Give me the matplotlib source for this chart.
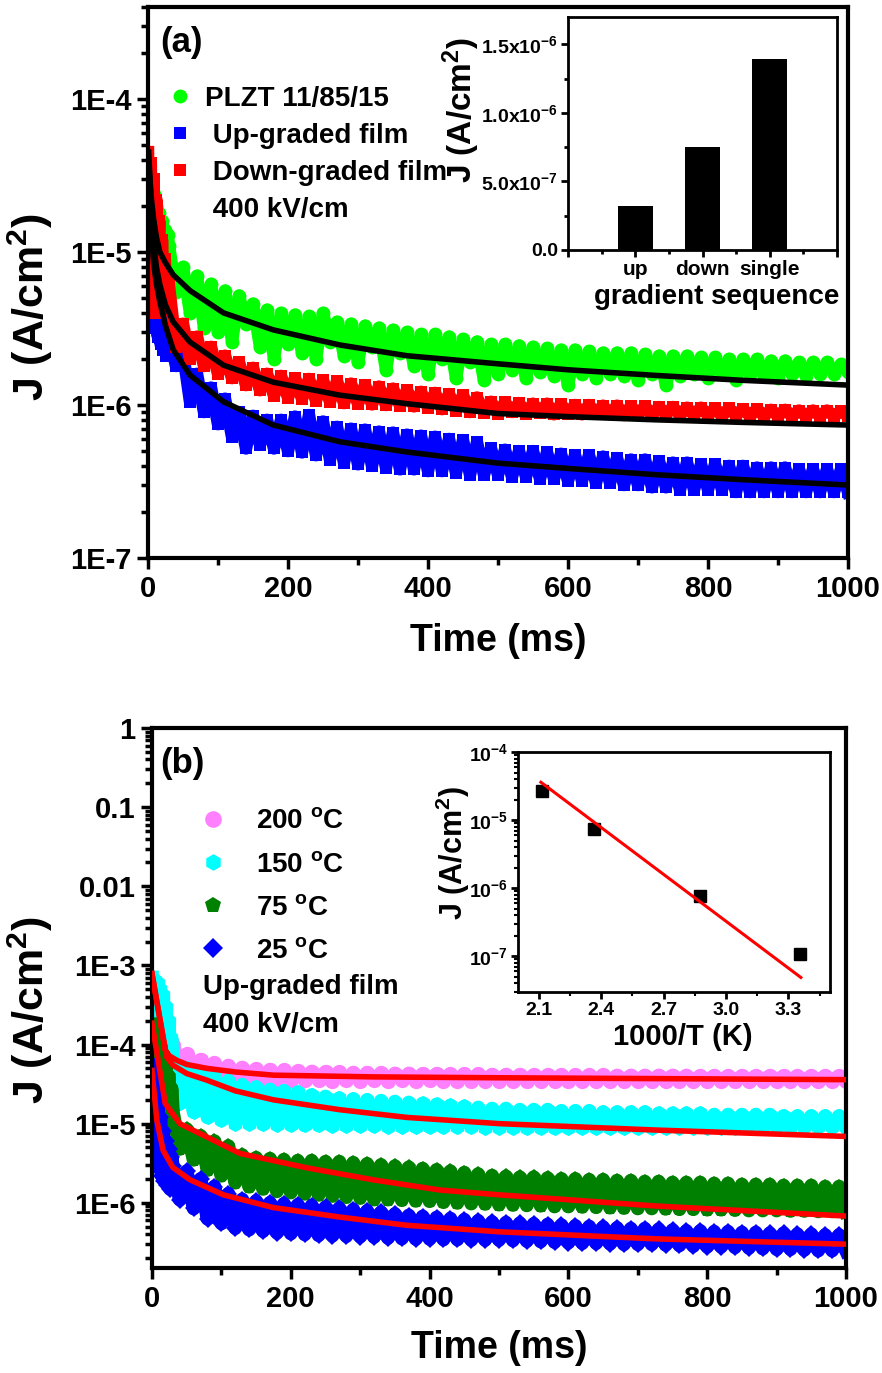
import numpy as np
import matplotlib
matplotlib.use('Agg')
import matplotlib.pyplot as plt
from matplotlib.ticker import LogLocator, NullFormatter, MultipleLocator, FixedLocator
from matplotlib.lines import Line2D

plt.rcParams['font.family'] = ['Liberation Sans', 'DejaVu Sans']
plt.rcParams['font.weight'] = 'bold'
plt.rcParams['axes.labelweight'] = 'bold'
plt.rcParams['mathtext.fontset'] = 'custom'
plt.rcParams['mathtext.rm'] = 'Liberation Sans:bold'
plt.rcParams['mathtext.it'] = 'Liberation Sans:bold'
plt.rcParams['mathtext.bf'] = 'Liberation Sans:bold'
plt.rcParams['mathtext.default'] = 'rm'

# sampling times (ms): fine steps at the start, then every 10 ms
time_ms = np.concatenate([np.arange(0, 30, 2), np.arange(30, 1001, 10)])

# ---- (a) leakage current, uA/cm^2 : first 15 samples, then peaks (30,50..990) and troughs (40,60..1000)
plzt_early = [35, 14, 28, 12, 24, 11, 20, 10, 18, 9, 16, 8.5, 14, 8, 13]
plzt_hi = [11, 8.0, 7.0, 6.2, 5.6, 5.2, 4.6, 4.2, 4.0, 3.9,
           3.8, 4.0, 3.5, 3.4, 3.3, 3.2, 3.1, 3.0, 2.9, 2.9,
           2.8, 2.7, 2.6, 2.5, 2.5, 2.45, 2.4, 2.35, 2.3, 2.3,
           2.25, 2.2, 2.2, 2.2, 2.15, 2.1, 2.1, 2.1, 2.05, 2.05,
           2.0, 2.0, 2.0, 1.95, 1.95, 1.9, 1.9, 1.9, 1.85]
plzt_lo = [5.5, 4.0, 3.2, 3.0, 2.6, 3.4, 2.4, 2.0, 2.5, 2.2,
           2.0, 2.6, 2.1, 1.9, 2.4, 1.7, 2.2, 1.8, 1.6, 2.0,
           1.5, 1.9, 1.45, 1.6, 1.7, 1.5, 1.65, 1.55, 1.35, 1.6,
           1.5, 1.6, 1.55, 1.45, 1.6, 1.35, 1.55, 1.6, 1.5, 1.6,
           1.45, 1.6, 1.55, 1.5, 1.6, 1.55, 1.6, 1.6, 1.65]

up_early = [12, 4, 10, 3.5, 8, 3.2, 6.5, 2.8, 5.5, 2.5, 4.5, 2.3, 3.8, 2.1, 3.2]
up_hi = [2.9, 2.2, 1.6, 1.3, 1.1, 0.9, 0.85, 0.8, 0.8, 0.84,
         0.86, 0.78, 0.72, 0.7, 0.69, 0.67, 0.66, 0.64, 0.63, 0.62,
         0.6, 0.59, 0.57, 0.52, 0.51, 0.5, 0.5, 0.49, 0.48, 0.47,
         0.47, 0.46, 0.45, 0.44, 0.44, 0.43, 0.42, 0.42, 0.41, 0.41,
         0.4, 0.4, 0.39, 0.39, 0.39, 0.38, 0.38, 0.38, 0.38]
up_lo = [1.8, 1.05, 0.9, 0.75, 0.62, 0.52, 0.55, 0.52, 0.5, 0.49,
         0.47, 0.44, 0.42, 0.41, 0.4, 0.39, 0.38, 0.38, 0.37, 0.37,
         0.36, 0.35, 0.35, 0.35, 0.34, 0.34, 0.33, 0.33, 0.32, 0.32,
         0.31, 0.31, 0.3, 0.3, 0.29, 0.29, 0.28, 0.28, 0.28, 0.28,
         0.27, 0.27, 0.27, 0.27, 0.27, 0.27, 0.27, 0.27, 0.27]

down_early = [45, 5, 38, 4.5, 30, 4, 22, 8, 16, 5, 12, 6, 9, 4.5, 7]
down_hi = [6.0, 3.4, 2.8, 2.4, 2.1, 1.9, 1.75, 1.6, 1.55, 1.5,
           1.48, 1.45, 1.43, 1.38, 1.35, 1.32, 1.28, 1.25, 1.22, 1.2,
           1.18, 1.16, 1.12, 1.05, 1.04, 1.03, 1.02, 1.02, 1.01, 1.0,
           1.0, 0.99, 0.99, 0.98, 0.98, 0.97, 0.97, 0.96, 0.96, 0.95,
           0.95, 0.94, 0.94, 0.93, 0.93, 0.92, 0.92, 0.92, 0.91]
down_lo = [2.4, 2.0, 1.8, 1.6, 1.5, 1.35, 1.25, 1.15, 1.12, 1.1,
           1.07, 1.05, 1.03, 1.02, 1.01, 1.0, 0.99, 0.98, 0.96, 0.94,
           0.92, 0.9, 0.89, 0.88, 0.9, 0.88, 0.89, 0.87, 0.88, 0.87,
           0.88, 0.87, 0.86, 0.87, 0.86, 0.87, 0.86, 0.86, 0.86, 0.85,
           0.86, 0.85, 0.85, 0.85, 0.85, 0.85, 0.85, 0.85, 0.85]

# fitted curves (a), uA/cm^2
fit_t_a = [1, 2, 5, 8, 12, 17, 25, 36, 60, 108, 179, 274, 370, 500, 600, 727, 850, 1000]
fit_plzt = [40, 33, 22, 16.5, 12.5, 10, 8.5, 7.1, 5.6, 4.0, 3.1, 2.47, 2.1, 1.86, 1.7, 1.56, 1.45, 1.35]
fit_down = [45, 36, 18, 11.6, 8.0, 6.1, 4.5, 3.5, 2.58, 1.82, 1.41, 1.16, 1.02, 0.88, 0.84, 0.8, 0.77, 0.74]
fit_up = [35, 25, 13, 8.5, 6.2, 4.7, 3.3, 2.3, 1.57, 1.05, 0.74, 0.575, 0.493, 0.417, 0.385, 0.35, 0.325, 0.30]

# inset (a): J at 1 s for each gradient sequence
seq_names = ['up', 'down', 'single']
seq_J = [3.2e-7, 7.5e-7, 1.39e-6]

# ---- (b) up-graded film at several temperatures, uA/cm^2
t200_early = [200, 90, 180, 85, 170, 80, 160, 78, 150, 75, 140, 72, 125, 70, 110]
t200_hi = [100, 75, 64, 58, 54, 51, 49, 48, 47, 46,
           45.5, 45, 44.5, 44, 44, 43.5, 43, 43, 42.5, 42.5,
           42, 42, 42, 41.5, 41.5, 41.5, 41, 41, 41, 41,
           41, 41, 40.5, 40.5, 40.5, 40.5, 40.5, 40.5, 40, 40,
           40, 40, 40, 40, 40, 40, 40, 40, 40]
t200_lo = [55, 47, 43, 40, 38, 37, 36.5, 36, 36, 35.5,
           35.5, 35, 35.5, 35, 35.5, 35, 35.5, 35, 35.5, 35,
           35, 35, 34.5, 35, 35, 34.5, 35, 35, 34.5, 35,
           35, 34.5, 35, 35, 34.5, 35, 35, 34.5, 35, 35,
           34.5, 35, 35, 34.5, 35, 35, 34.5, 35, 35]

t150_early = [700, 150, 650, 130, 600, 110, 500, 100, 420, 90, 300, 80, 200, 75, 120]
t150_hi = [65, 50, 45, 40, 35, 31, 29, 27, 26, 25,
           23, 22, 21, 20.5, 20, 19.5, 19, 18.5, 18, 17.5,
           17, 16.5, 16, 15.5, 15.5, 15, 15, 15, 14.5, 14.5,
           14.5, 14, 14, 14, 14, 13.5, 13.5, 13.5, 13.5, 13,
           13, 13, 13, 13, 12.5, 12.5, 12.5, 12.5, 12.5]
t150_lo = [18, 14, 12, 11, 10, 10, 9.8, 9.7, 9.6, 9.5,
           9.5, 9.4, 9.4, 9.3, 9.3, 9.2, 9.2, 9.1, 9.1, 9.0,
           9.0, 9.0, 8.9, 8.9, 8.9, 8.8, 8.8, 8.8, 8.8, 8.8,
           8.8, 8.8, 8.8, 8.8, 8.8, 8.8, 8.9, 8.9, 8.9, 8.9,
           8.9, 9.0, 9.0, 9.0, 9.0, 9.0, 9.0, 9.0, 9.0]

t75_early = [180, 25, 160, 20, 130, 16, 100, 14, 75, 12, 55, 10, 40, 9, 28]
t75_hi = [14, 8.5, 7.0, 6.0, 5.2, 4.0, 3.7, 3.6, 3.5, 3.4,
          3.4, 3.3, 3.3, 3.2, 3.1, 3.0, 2.9, 2.8, 2.7, 2.6,
          2.5, 2.4, 2.3, 2.2, 2.15, 2.1, 2.1, 2.05, 2.0, 2.0,
          1.95, 1.95, 1.9, 1.9, 1.85, 1.85, 1.8, 1.8, 1.8, 1.75,
          1.75, 1.7, 1.7, 1.7, 1.65, 1.65, 1.65, 1.6, 1.6]
t75_lo = [4.8, 3.5, 2.6, 2.2, 1.8, 1.6, 1.5, 1.4, 1.35, 1.3,
          1.26, 1.22, 1.18, 1.15, 1.1, 1.1, 1.08, 1.06, 1.05, 1.02,
          1.0, 0.98, 0.97, 0.95, 0.94, 0.93, 0.92, 0.9, 0.9, 0.89,
          0.88, 0.87, 0.86, 0.85, 0.85, 0.84, 0.83, 0.83, 0.82, 0.82,
          0.81, 0.8, 0.8, 0.8, 0.79, 0.79, 0.78, 0.78, 0.78]

t25_early = [55, 4.5, 35, 3.5, 20, 2.8, 12, 2.2, 8, 1.9, 6, 1.7, 4.8, 1.5, 3.8]
t25_hi = [2.9, 2.5, 2.0, 1.6, 1.3, 1.1, 1.05, 1.0, 0.97, 0.94,
          0.92, 0.88, 0.85, 0.82, 0.79, 0.76, 0.72, 0.69, 0.67, 0.65,
          0.63, 0.61, 0.59, 0.57, 0.56, 0.55, 0.54, 0.53, 0.52, 0.51,
          0.5, 0.49, 0.48, 0.47, 0.47, 0.46, 0.45, 0.44, 0.44, 0.43,
          0.43, 0.42, 0.42, 0.41, 0.41, 0.4, 0.4, 0.39, 0.39]
t25_lo = [1.1, 0.85, 0.63, 0.55, 0.48, 0.46, 0.44, 0.42, 0.41, 0.4,
          0.39, 0.385, 0.38, 0.375, 0.37, 0.36, 0.355, 0.35, 0.35, 0.345,
          0.345, 0.34, 0.34, 0.34, 0.335, 0.33, 0.325, 0.32, 0.315, 0.31,
          0.31, 0.305, 0.3, 0.3, 0.3, 0.295, 0.29, 0.285, 0.28, 0.28,
          0.275, 0.27, 0.265, 0.26, 0.26, 0.255, 0.25, 0.25, 0.25]

# fitted curves (b), uA/cm^2
fit200_t = [0, 19, 25, 36, 50, 79, 120, 175, 319, 501, 750, 1000]
fit200 = [790, 85, 72, 63, 56, 50, 45, 41, 39, 38, 37, 36]
fit150_t = [0, 21, 30, 50, 79, 120, 175, 271, 367, 501, 727, 1000]
fit150 = [780, 70, 55, 43, 35.5, 26, 20, 15, 12, 10, 8.3, 6.9]
fit75_t = [0, 19, 40, 79, 127, 223, 319, 415, 501, 727, 1000]
fit75 = [186, 18, 10, 6.8, 4.2, 2.77, 1.95, 1.45, 1.26, 0.91, 0.68]
fit25_t = [0, 7, 16, 30, 55, 103, 175, 271, 367, 501, 727, 1000]
fit25 = [47, 11, 4.6, 2.8, 1.95, 1.26, 0.87, 0.66, 0.52, 0.43, 0.35, 0.30]

# inset (b): Arrhenius plot
inv_T = [2.114, 2.364, 2.873, 3.356]
J_T = [2.7e-5, 7.3e-6, 7.6e-7, 1.1e-7]
arr_fit_x = [2.11, 3.36]
arr_fit_J = [3.6e-5, 4.9e-8]


def series(early, hi, lo):
    tail = np.empty(len(hi) + len(lo))
    tail[0::2] = hi
    tail[1::2] = lo
    return np.concatenate([early, tail]) * 1e-6


def style_main(ax):
    for s in ax.spines.values():
        s.set_linewidth(3)
    ax.tick_params(which='major', direction='out', length=8, width=2.5, labelsize=21, pad=4)
    ax.tick_params(which='minor', direction='out', length=5, width=2.5)
    ax.set_xlim(0, 1000)
    ax.xaxis.set_major_locator(MultipleLocator(200))
    ax.xaxis.set_minor_locator(MultipleLocator(100))
    ax.yaxis.set_minor_locator(LogLocator(base=10, subs=np.arange(2, 10), numticks=20))
    ax.yaxis.set_minor_formatter(NullFormatter())


fig = plt.figure(figsize=(8.82, 13.73), dpi=100)
W, H = 882, 1373
ax_a = fig.add_axes([148 / W, 1 - 558 / H, 700 / W, 551 / H])
ax_b = fig.add_axes([152 / W, 1 - 1268 / H, 694 / W, 540 / H])
ins_a = fig.add_axes([568 / W, 1 - 250 / H, 269 / W, 233 / H])
ins_b = fig.add_axes([518 / W, 1 - 992 / H, 312 / W, 240 / H])

# ---------- panel (a)
ax_a.set_yscale('log')
ax_a.plot(time_ms, series(plzt_early, plzt_hi, plzt_lo), color='#00ff00', lw=9,
          marker='o', ms=10, mew=0)
ax_a.plot(time_ms, series(up_early, up_hi, up_lo), color='#0000ff', lw=9,
          marker='s', ms=9, mew=0)
ax_a.plot(time_ms, series(down_early, down_hi, down_lo), color='#ff0000', lw=9,
          marker='s', ms=9, mew=0)
for f in (fit_plzt, fit_down, fit_up):
    ax_a.plot(fit_t_a, np.array(f) * 1e-6, color='black', lw=4, zorder=5)
style_main(ax_a)
ax_a.set_ylim(1e-7, 4e-4)
ax_a.set_yticks([1e-7, 1e-6, 1e-5, 1e-4])
ax_a.set_yticklabels(['1E-7', '1E-6', '1E-5', '1E-4'])
ax_a.set_xlabel('Time (ms)', fontsize=27)
ax_a.xaxis.set_label_coords(0.5, -0.118)
ax_a.set_ylabel('J (A/cm$^{2}$)', fontsize=31)
ax_a.yaxis.set_label_coords(-0.133, 0.455)
ax_a.text(0.017, 0.935, '(a)', transform=ax_a.transAxes, fontsize=25, va='center')

hand_a = [Line2D([], [], ls='none', marker='o', ms=10, color='#00ff00', mew=0),
          Line2D([], [], ls='none', marker='s', ms=9, color='#0000ff', mew=0),
          Line2D([], [], ls='none', marker='s', ms=9, color='#ff0000', mew=0),
          Line2D([], [], ls='none')]
ax_a.legend(hand_a, ['PLZT 11/85/15', ' Up-graded film', ' Down-graded film', ' 400 kV/cm'],
            loc='upper left', bbox_to_anchor=(0.03, 0.857), frameon=False, fontsize=20,
            handlelength=0.8, handletextpad=0.5, labelspacing=0.4, borderpad=0,
            borderaxespad=0)

# ---------- inset (a)
ins_a.bar([1, 2, 3], seq_J, width=0.52, color='black')
ins_a.set_xlim(0, 4)
ins_a.set_ylim(0, 1.7e-6)
ins_a.set_xticks([0, 1, 2, 3, 4])
ins_a.set_xticklabels(['', seq_names[0], seq_names[1], seq_names[2], ''], fontsize=15)
ins_a.xaxis.set_minor_locator(MultipleLocator(0.5))
ins_a.set_yticks([0, 5e-7, 1e-6, 1.5e-6])
ins_a.set_yticklabels(['0.0', '5.0x10$^{-7}$', '1.0x10$^{-6}$', '1.5x10$^{-6}$'], fontsize=14)
ins_a.yaxis.set_minor_locator(MultipleLocator(2.5e-7))
for s in ins_a.spines.values():
    s.set_linewidth(2)
ins_a.tick_params(which='major', direction='out', length=5, width=2, pad=2)
ins_a.tick_params(which='minor', direction='out', length=3, width=2)
ins_a.set_xlabel('gradient sequence', fontsize=20)
ins_a.xaxis.set_label_coords(0.554, -0.146)
ins_a.set_ylabel('J (A/cm$^{2}$)', fontsize=24)
ins_a.yaxis.set_label_coords(-0.32, 0.6)

# ---------- panel (b)
ax_b.set_yscale('log')
ax_b.plot(time_ms, series(t200_early, t200_hi, t200_lo), color='#ff80ff', lw=10,
          marker='o', ms=11, mew=0)
ax_b.plot(time_ms, series(t150_early, t150_hi, t150_lo), color='#00ffff', lw=10,
          marker='h', ms=11, mew=0)
ax_b.plot(time_ms, series(t75_early, t75_hi, t75_lo), color='#008000', lw=10,
          marker='p', ms=11, mew=0)
ax_b.plot(time_ms, series(t25_early, t25_hi, t25_lo), color='#0000ff', lw=10,
          marker='D', ms=9, mew=0)
for ft, f in ((fit200_t, fit200), (fit150_t, fit150), (fit75_t, fit75), (fit25_t, fit25)):
    ax_b.plot(ft, np.array(f) * 1e-6, color='#ff0000', lw=4, zorder=5)
style_main(ax_b)
ax_b.set_ylim(1.5e-7, 1)
ax_b.set_yticks([1e-6, 1e-5, 1e-4, 1e-3, 1e-2, 1e-1, 1])
ax_b.set_yticklabels(['1E-6', '1E-5', '1E-4', '1E-3', '0.01', '0.1', '1'])
ax_b.set_xlabel('Time (ms)', fontsize=27)
ax_b.xaxis.set_label_coords(0.5, -0.115)
ax_b.set_ylabel('J (A/cm$^{2}$)', fontsize=31)
ax_b.yaxis.set_label_coords(-0.14, 0.478)
ax_b.text(0.012, 0.935, '(b)', transform=ax_b.transAxes, fontsize=25, va='center')

hand_b = [Line2D([], [], ls='none', marker='o', ms=12, color='#ff80ff', mew=0),
          Line2D([], [], ls='none', marker='h', ms=12, color='#00ffff', mew=0),
          Line2D([], [], ls='none', marker='p', ms=12, color='#008000', mew=0),
          Line2D([], [], ls='none', marker='D', ms=10, color='#0000ff', mew=0)]
ax_b.legend(hand_b, ['200 $^{o}$C', '150 $^{o}$C', '75 $^{o}$C', '25 $^{o}$C'],
            loc='upper left', bbox_to_anchor=(0.068, 0.851), frameon=False, fontsize=20,
            handlelength=1.0, handletextpad=1.05, labelspacing=0.62, borderpad=0,
            borderaxespad=0)
ax_b.text(0.073, 0.52, 'Up-graded film', transform=ax_b.transAxes, fontsize=20, va='center')
ax_b.text(0.073, 0.45, '400 kV/cm', transform=ax_b.transAxes, fontsize=20, va='center')

# ---------- inset (b)
ins_b.set_yscale('log')
ins_b.plot(inv_T, J_T, ls='none', marker='s', ms=9, color='black')
ins_b.plot(arr_fit_x, arr_fit_J, color='#ff0000', lw=2.2)
ins_b.set_xlim(2.0, 3.5)
ins_b.set_ylim(3e-8, 1e-4)
ins_b.set_xticks([2.1, 2.4, 2.7, 3.0, 3.3])
ins_b.set_xticklabels(['2.1', '2.4', '2.7', '3.0', '3.3'], fontsize=14)
ins_b.xaxis.set_minor_locator(FixedLocator([2.25, 2.55, 2.85, 3.15, 3.45]))
ins_b.set_yticks([1e-7, 1e-6, 1e-5, 1e-4])
ins_b.set_yticklabels(['10$^{-7}$', '10$^{-6}$', '10$^{-5}$', '10$^{-4}$'], fontsize=14)
ins_b.yaxis.set_minor_locator(LogLocator(base=10, subs=np.arange(2, 10), numticks=20))
ins_b.yaxis.set_minor_formatter(NullFormatter())
for s in ins_b.spines.values():
    s.set_linewidth(2)
ins_b.tick_params(which='major', direction='out', length=5, width=2, pad=2)
ins_b.tick_params(which='minor', direction='out', length=3, width=1.5)
ins_b.set_xlabel('1000/T (K)', fontsize=21)
ins_b.xaxis.set_label_coords(0.529, -0.13)
ins_b.set_ylabel('J (A/cm$^{2}$)', fontsize=22)
ins_b.yaxis.set_label_coords(-0.147, 0.58)

fig.savefig('out.png', dpi=100)
